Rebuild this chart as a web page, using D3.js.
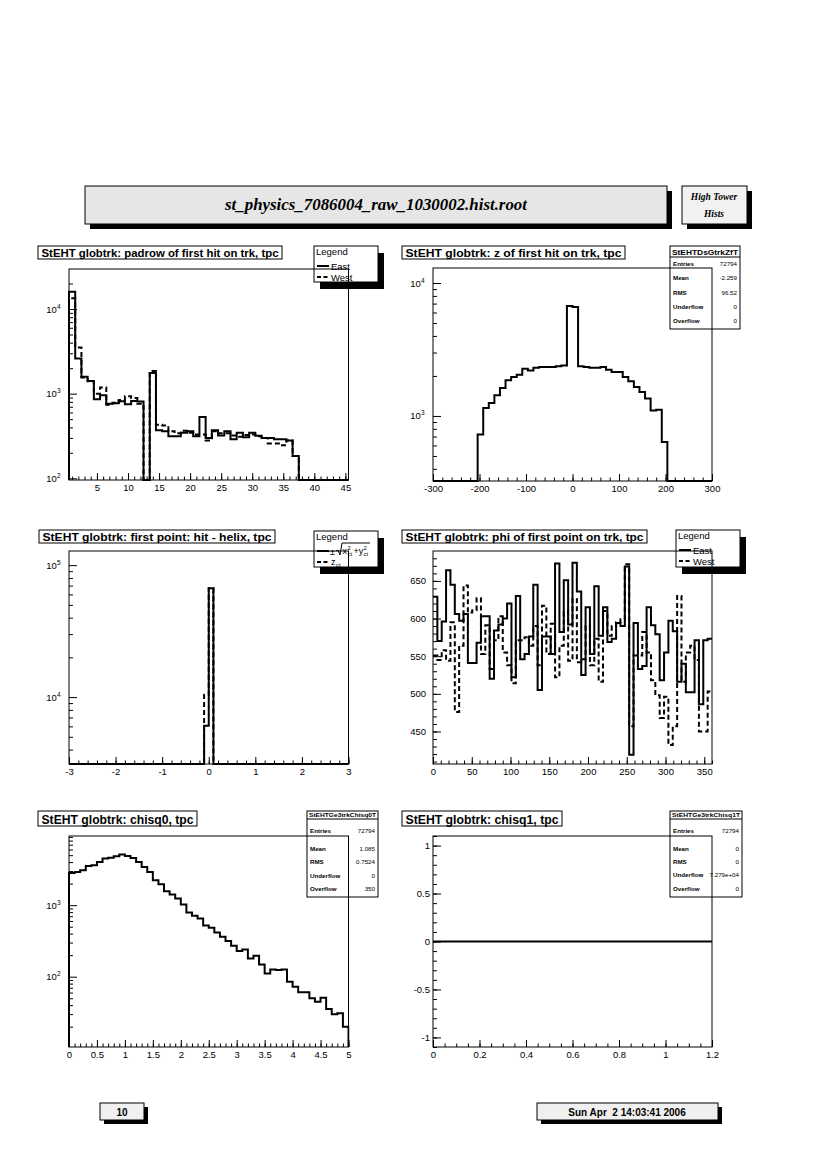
<!DOCTYPE html>
<html><head><meta charset="utf-8">
<script src="https://cdn.jsdelivr.net/npm/d3@7"></script>
<style>
body{margin:0;background:#fff}
svg text{font-family:"Liberation Sans",Arial,sans-serif}
</style>
</head><body>
<svg id="c" width="826" height="1170"></svg>
<script>
// ---------------- DATA ----------------
const headerTitle = "st_physics_7086004_raw_1030002.hist.root";
const headerTag = ["High Tower", "Hists"];
const pageNumber = "10";
const pageDate = "Sun Apr  2 14:03:41 2006";

// Panel 1: padrow of first hit (bins 1..45)
const p1Title = "StEHT globtrk: padrow of first hit on trk, tpc";
const p1East = [16000,2600,1580,1410,860,960,760,770,815,750,820,810,0,1760,370,360,315,315,345,360,315,530,
  300,370,320,360,290,345,305,345,318,300,300,290,290,280,183,0,0,0,0,0,0,0,0];
const p1West = [13400,3500,1550,1400,1000,1180,740,780,840,930,890,760,0,1850,430,420,360,340,365,345,330,330,
  280,360,340,340,320,310,325,330,315,300,258,258,245,280,183,0,0,0,0,0,0,0,0];
const p1XTicks = [5,10,15,20,25,30,35,40,45];
const p1Legend = ["Legend","East","West"];

// Panel 2: z of first hit (50 bins, -300..300)
const p2Title = "StEHT globtrk: z of first hit on trk, tpc";
const p2Counts = [0,0,0,0,0,0,0,0,
  724,1148,1252,1430,1623,1854,1963,2045,2268,2200,2307,2334,2334,2334,2363,2400,6710,
  6600,2363,2330,2300,2300,2330,2230,2140,2140,1963,1820,1650,1515,1350,1100,1115,638,
  0,0,0,0,0,0,0,0];
const p2XTicks = [-300,-200,-100,0,100,200,300];
const p2StatsName = "StEHTDsGtrkZfT";
const p2StatLabels = ["Entries","Mean","RMS","Underflow","Overflow"];
const p2StatValues = ["72794","-2.259","96.52","0","0"];

// Panel 3: first point hit - helix (60 bins, -3..3)
const p3Title = "StEHT globtrk: first point: hit - helix, tpc";
const p3East = [0,0,0,0,0,0,0,0,0,0,0,0,0,0,0,0,0,0,0,0,0,0,0,0,0,0,0,0,0,
  6070,66700,
  0,0,0,0,0,0,0,0,0,0,0,0,0,0,0,0,0,0,0,0,0,0,0,0,0,0,0,0,0];
const p3West = [0,0,0,0,0,0,0,0,0,0,0,0,0,0,0,0,0,0,0,0,0,0,0,0,0,0,0,0,0,
  10400,66700,
  0,0,0,0,0,0,0,0,0,0,0,0,0,0,0,0,0,0,0,0,0,0,0,0,0,0,0,0,0];
const p3XTicks = [-3,-2,-1,0,1,2,3];

// Panel 4: phi of first point (64 bins, 0..360)
const p4Title = "StEHT globtrk: phi of first point on trk, tpc";
const p4East = [629,570,596,664,645,606,597,606,541,541,568,603,603,520,584,592,
  600,620,522,630,546,553,576,645,505,576,576,553,673,582,651,592,
  674,636,525,615,553,643,577,615,569,573,594,590,669,419,594,533,
  537,615,591,579,518,555,597,583,516,540,502,502,571,486,571,573];
const p4West = [551,545,558,544,595,476,564,644,608,611,627,553,591,533,571,603,
  555,538,514,571,571,575,564,590,538,617,553,593,522,564,609,544,
  626,542,546,590,538,573,516,610,577,590,595,599,672,457,551,551,
  582,555,518,498,468,496,432,457,630,516,555,564,545,450,450,503];
const p4XTicks = [0,50,100,150,200,250,300,350];
const p4YTicks = [450,500,550,600,650];
const p4Legend = ["Legend","East","West"];

// Panel 5: chisq0 (50 bins, 0..5)
const p5Title = "StEHT globtrk: chisq0, tpc";
const p5Counts = [2826,2920,3080,3540,3610,4020,4480,4620,4830,5100,4880,4570,4020,3430,2920,2230,1960,1570,1410,1240,
  1020,790,710,650,520,483,416,362,315,271,228,240,180,196,148,111,126,124,126,85,
  72.6,60.5,60.5,50,44.5,50.8,35.4,29.8,30.8,20];
const p5XTicks = [0,0.5,1,1.5,2,2.5,3,3.5,4,4.5,5];
const p5StatsName = "StEHTGe3trkChisq0T";
const p5StatLabels = ["Entries","Mean","RMS","Underflow","Overflow"];
const p5StatValues = ["72794","1.085","0.7524","0","350"];

// Panel 6: chisq1 (all entries in underflow)
const p6Title = "StEHT globtrk: chisq1, tpc";
const p6Counts = [0,0,0,0,0,0,0,0,0,0,0,0];
const p6XTicks = [0,0.2,0.4,0.6,0.8,1,1.2];
const p6YTicks = [-1,-0.5,0,0.5,1];
const p6StatsName = "StEHTGe3trkChisq1T";
const p6StatLabels = ["Entries","Mean","RMS","Underflow","Overflow"];
const p6StatValues = ["72794","0","0","7.279e+04","0"];

// ---------------- DRAWING ----------------
const svg = d3.select('#c');
const FONT = '"Liberation Sans", Arial, sans-serif';
const SERIF = '"Liberation Serif", "DejaVu Serif", serif';
let clipId = 0;

function stepTicks(lo, hi, step) {
  const out = []; const n = Math.round((hi - lo) / step);
  for (let i = 0; i <= n; i++) out.push(+(lo + i * step).toFixed(6));
  return out;
}
function logTicks(lo, hi) {
  const maj = [], min = [];
  for (let e = Math.floor(Math.log10(lo)); e <= Math.ceil(Math.log10(hi)); e++) {
    for (let m = 1; m < 10; m++) {
      const v = m * Math.pow(10, e);
      if (v < lo || v > hi) continue;
      (m === 1 ? maj : min).push(v);
    }
  }
  return {maj, min};
}

function shadowBox(x0, y0, x1, y1, fill, dx, dy) {
  svg.append('rect').attr('x', x0 + dx).attr('y', y0 + dy).attr('width', x1 - x0).attr('height', y1 - y0).attr('fill', '#000');
  svg.append('rect').attr('x', x0).attr('y', y0).attr('width', x1 - x0).attr('height', y1 - y0)
    .attr('fill', fill).attr('stroke', '#000').attr('stroke-width', 1);
}

function panel(p) {
  const g = svg.append('g');
  const x = d3.scaleLinear().domain(p.xDomain).range([p.fx0, p.fx1]);
  const y = (p.log ? d3.scaleLog() : d3.scaleLinear()).domain(p.yDomain).range([p.fy1, p.fy0]);
  const id = 'clip' + (clipId++);
  g.append('clipPath').attr('id', id).append('rect')
    .attr('x', p.fx0 - 1).attr('y', p.fy0 - 1).attr('width', p.fx1 - p.fx0 + 2).attr('height', p.fy1 - p.fy0 + 2);

  // histograms
  p.series.forEach(s => {
    const n = s.values.length, lo = p.xDomain[0], hi = p.xDomain[1], w = (hi - lo) / n;
    const yv = v => (p.log && v <= 0) ? p.fy1 : y(v);
    const pts = [];
    if (p.log) pts.push([x(lo), p.fy1]);
    s.values.forEach((v, i) => { pts.push([x(lo + i * w), yv(v)]); pts.push([x(lo + (i + 1) * w), yv(v)]); });
    if (p.log) pts.push([x(hi), p.fy1]);
    g.append('path').attr('d', d3.line()(pts)).attr('fill', 'none').attr('stroke', '#000')
      .attr('stroke-width', 2).attr('stroke-dasharray', s.dash ? '5,3' : null)
      .attr('clip-path', `url(#${id})`);
  });

  // x axis
  const xa1 = g.append('g').attr('transform', `translate(0,${p.fy1})`)
    .call(d3.axisBottom(x).tickValues(p.xMinor).tickSize(-3.5).tickFormat(''));
  xa1.select('.domain').remove();
  const xa2 = g.append('g').attr('transform', `translate(0,${p.fy1})`)
    .call(d3.axisBottom(x).tickValues(p.xTicks).tickSize(-7).tickPadding(4).tickFormat(d => String(d)));
  xa2.select('.domain').remove();
  xa2.attr('font-family', FONT).attr('font-size', 9.5);

  // y axis
  if (p.log) {
    const t = logTicks(p.yDomain[0], p.yDomain[1]);
    g.append('g').attr('transform', `translate(${p.fx0},0)`)
      .call(d3.axisLeft(y).tickValues(t.min).tickSize(-4).tickFormat('')).select('.domain').remove();
    g.append('g').attr('transform', `translate(${p.fx0},0)`)
      .call(d3.axisLeft(y).tickValues(t.maj).tickSize(-8).tickFormat('')).select('.domain').remove();
    t.maj.forEach(v => {
      const tx = g.append('text').attr('x', p.fx0 - 8.5).attr('y', y(v) + 3.5)
        .attr('text-anchor', 'end').attr('font-size', 9.5).attr('font-family', FONT);
      tx.append('tspan').text('10');
      tx.append('tspan').attr('dy', -4).attr('font-size', 6.5).text(String(Math.round(Math.log10(v))));
    });
  } else {
    g.append('g').attr('transform', `translate(${p.fx0},0)`)
      .call(d3.axisLeft(y).tickValues(p.yMinor).tickSize(-4).tickFormat('')).select('.domain').remove();
    const ya = g.append('g').attr('transform', `translate(${p.fx0},0)`)
      .call(d3.axisLeft(y).tickValues(p.yTicks).tickSize(-8).tickPadding(p.yPad).tickFormat(d => String(d)));
    ya.select('.domain').remove();
    ya.attr('font-family', FONT).attr('font-size', 9.5);
  }

  // legend
  if (p.legend) {
    const L = p.legend;
    shadowBox(L.x0, L.y0, L.x1, L.y1, '#fff', 6, 7);
    svg.append('text').attr('x', L.x0 + 2).attr('y', L.y0 + 9).attr('font-size', 9.5).text(L.labels[0]);
    const rows = [L.y0 + 20, L.y0 + 31];
    rows.forEach((ry, i) => {
      svg.append('line').attr('x1', L.x0 + 3).attr('x2', L.x0 + 15).attr('y1', ry).attr('y2', ry)
        .attr('stroke', '#000').attr('stroke-width', 2).attr('stroke-dasharray', i === 1 ? '4,2.5' : null);
      if (L.labels[i + 1]) svg.append('text').attr('x', L.x0 + 17).attr('y', ry + 3.5).attr('font-size', 9.5).text(L.labels[i + 1]);
    });
    if (L.math) L.math(L, rows);
  }

  // stats box
  if (p.stats) {
    const S = p.stats;
    svg.append('rect').attr('x', S.x0).attr('y', S.y0).attr('width', S.x1 - S.x0).attr('height', S.y1 - S.y0)
      .attr('fill', '#fff').attr('stroke', '#000');
    svg.append('line').attr('x1', S.x0).attr('x2', S.x1).attr('y1', S.div).attr('y2', S.div).attr('stroke', '#000');
    svg.append('text').attr('x', (S.x0 + S.x1) / 2).attr('y', S.div - 2.5).attr('text-anchor', 'middle')
      .attr('font-size', S.tfs).attr('font-weight', 'bold').attr('textLength', S.x1 - S.x0 - 4)
      .attr('lengthAdjust', 'spacingAndGlyphs').text(S.name);
    S.labels.forEach((lab, i) => {
      svg.append('text').attr('x', S.x0 + 3).attr('y', S.rows[i] + 2.2).attr('font-size', 6.2)
        .attr('font-weight', 'bold').text(lab);
      svg.append('text').attr('x', S.x1 - 3).attr('y', S.rows[i] + 2.2).attr('font-size', 6.2)
        .attr('text-anchor', 'end').text(S.values[i]);
    });
  }

  // frame
  svg.append('rect').attr('x', p.fx0).attr('y', p.fy0).attr('width', p.fx1 - p.fx0).attr('height', p.fy1 - p.fy0)
    .attr('fill', 'none').attr('stroke', '#000').attr('stroke-width', 1);

  // title box
  const T = p.titleBox;
  svg.append('rect').attr('x', T.x0).attr('y', T.y0).attr('width', T.x1 - T.x0).attr('height', T.y1 - T.y0)
    .attr('fill', '#fff').attr('stroke', '#000');
  svg.append('text').attr('x', T.x0 + 3.5).attr('y', T.y1 - 2.5).attr('font-size', T.fs).attr('font-weight', 'bold')
    .attr('textLength', T.x1 - T.x0 - 7).attr('lengthAdjust', 'spacingAndGlyphs').text(p.title);
}

// ---- header ----
shadowBox(85, 186, 667, 224, '#e6e6e6', 5, 5);
svg.append('text').attr('x', 376).attr('y', 210).attr('text-anchor', 'middle')
  .attr('font-family', SERIF).attr('font-style', 'italic').attr('font-weight', 'bold').attr('font-size', 16)
  .attr('textLength', 302).attr('lengthAdjust', 'spacingAndGlyphs').style('font-family', SERIF).text(headerTitle);
shadowBox(682, 186, 747, 224, '#f2f2f2', 5, 5);
headerTag.forEach((t, i) => svg.append('text').attr('x', 714).attr('y', 200 + i * 17).attr('text-anchor', 'middle')
  .style('font-family', SERIF).attr('font-style', 'italic').attr('font-weight', 'bold').attr('font-size', 9.5).text(t));

// ---- footer ----
shadowBox(100, 1103, 144, 1120, '#f0f0f0', 4, 4);
svg.append('text').attr('x', 122).attr('y', 1115.5).attr('text-anchor', 'middle').attr('font-size', 10)
  .attr('font-weight', 'bold').text(pageNumber);
shadowBox(537, 1103, 718, 1120, '#f0f0f0', 4, 4);
svg.append('text').attr('x', 627).attr('y', 1115.5).attr('text-anchor', 'middle').attr('font-size', 10)
  .attr('font-weight', 'bold').style('white-space', 'pre').text(pageDate);

// ---- panels ----
const LX0 = 69, LX1 = 348.5, RX0 = 433, RX1 = 712;

panel({
  title: p1Title, titleBox: {x0: 38, x1: 282, y0: 246, y1: 259, fs: 11},
  fx0: LX0, fx1: LX1, fy0: 269, fy1: 480,
  xDomain: [0.5, 45.5], log: true, yDomain: [95.5, 29700],
  xTicks: p1XTicks, xMinor: stepTicks(1, 45, 1),
  series: [{values: p1East}, {values: p1West, dash: true}],
  legend: {x0: 314, y0: 246, x1: 378, y1: 282, labels: p1Legend}
});

panel({
  title: p2Title, titleBox: {x0: 402, x1: 625, y0: 246, y1: 259, fs: 11},
  fx0: RX0, fx1: RX1, fy0: 268, fy1: 481,
  xDomain: [-300, 300], log: true, yDomain: [324, 12970],
  xTicks: p2XTicks, xMinor: stepTicks(-300, 300, 20),
  series: [{values: p2Counts}],
  stats: {x0: 670, x1: 740, y0: 246, y1: 329, div: 257, tfs: 7, name: p2StatsName,
    labels: p2StatLabels, values: p2StatValues, rows: [263.5, 278, 292.3, 306.5, 320.5]}
});

panel({
  title: p3Title, titleBox: {x0: 39, x1: 275, y0: 530, y1: 543, fs: 11},
  fx0: LX0, fx1: LX1, fy0: 551, fy1: 764,
  xDomain: [-3, 3], log: true, yDomain: [3110, 128000],
  xTicks: p3XTicks, xMinor: stepTicks(-3, 3, 0.2),
  series: [{values: p3East}, {values: p3West, dash: true}],
  legend: {x0: 314, y0: 531, x1: 378, y1: 567, labels: ["Legend", "", ""],
    math: (L, rows) => {
      const r = rows[0];
      const t = (x, y, s, fs) => svg.append('text').attr('x', x).attr('y', y).attr('font-size', fs).text(s);
      t(L.x0 + 16, r + 3.5, "\u00b1", 9);
      svg.append('path').attr('d', `M${L.x0+22},${r} L${L.x0+24},${r-1} L${L.x0+26},${r+4} L${L.x0+28},${r-8} L${L.x0+56},${r-8}`)
        .attr('fill', 'none').attr('stroke', '#000').attr('stroke-width', 1);
      t(L.x0 + 28.5, r + 3, "x", 9); t(L.x0 + 33.5, r - 1.5, "2", 6); t(L.x0 + 33.5, r + 5, "ct", 6);
      t(L.x0 + 39.5, r + 3, "+y", 9); t(L.x0 + 49.5, r - 1.5, "2", 6); t(L.x0 + 49.5, r + 5, "ct", 6);
      const r2 = rows[1];
      t(L.x0 + 17, r2 + 2.5, "z", 9); t(L.x0 + 22, r2 + 5, "ct", 6);
    }}
});

panel({
  title: p4Title, titleBox: {x0: 402, x1: 647, y0: 530, y1: 543, fs: 11},
  fx0: RX0, fx1: RX1, fy0: 551, fy1: 764,
  xDomain: [0, 360], log: false, yDomain: [406.8, 689.7],
  xTicks: p4XTicks, xMinor: stepTicks(0, 360, 10),
  yTicks: p4YTicks, yMinor: stepTicks(410, 680, 10), yPad: 7,
  series: [{values: p4East}, {values: p4West, dash: true}],
  legend: {x0: 676, y0: 530, x1: 740, y1: 567, labels: p4Legend}
});

panel({
  title: p5Title, titleBox: {x0: 38, x1: 197, y0: 811, y1: 826, fs: 12.5},
  fx0: LX0, fx1: LX1, fy0: 836, fy1: 1047,
  xDomain: [0, 5], log: true, yDomain: [10.4, 9270],
  xTicks: p5XTicks, xMinor: stepTicks(0, 5, 0.1),
  series: [{values: p5Counts}],
  stats: {x0: 307, x1: 378, y0: 811, y1: 897, div: 819, tfs: 6, name: p5StatsName,
    labels: p5StatLabels, values: p5StatValues, rows: [831, 848.5, 862, 875.5, 888.5]}
});

panel({
  title: p6Title, titleBox: {x0: 402, x1: 562, y0: 811, y1: 826, fs: 12.5},
  fx0: RX0, fx1: RX1, fy0: 836, fy1: 1047,
  xDomain: [0, 1.2], log: false, yDomain: [-1.1, 1.1],
  xTicks: p6XTicks, xMinor: stepTicks(0, 1.2, 0.05),
  yTicks: p6YTicks, yMinor: stepTicks(-1.1, 1.1, 0.1), yPad: 3,
  series: [{values: p6Counts}],
  stats: {x0: 670, x1: 742, y0: 811, y1: 897, div: 819, tfs: 6, name: p6StatsName,
    labels: p6StatLabels, values: p6StatValues, rows: [831, 848.5, 862, 875, 888.5]}
});
</script>
</body></html>
